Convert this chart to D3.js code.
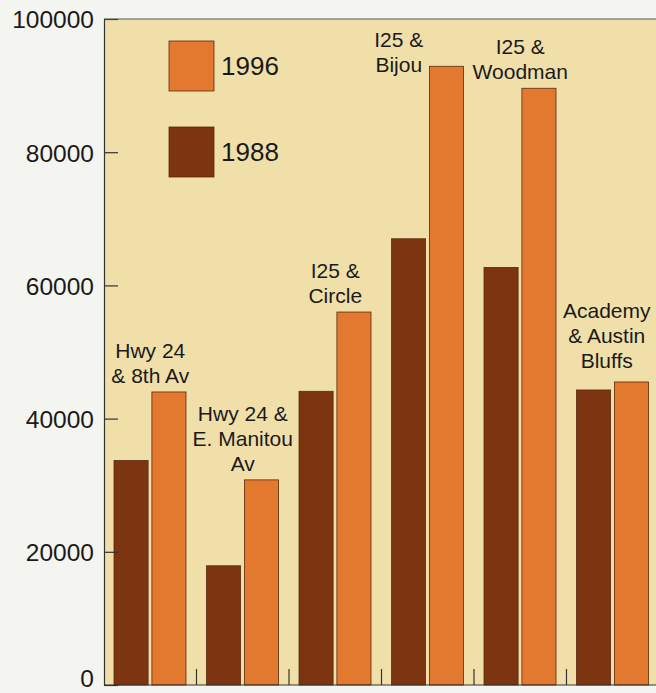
<!DOCTYPE html>
<html>
<head>
<meta charset="utf-8">
<script src="https://cdn.jsdelivr.net/npm/d3@7"></script>
<style>
  html, body { margin: 0; padding: 0; background: #f4f4f1; }
  svg { display: block; }
  text { font-family: "Liberation Sans", Arial, Helvetica, sans-serif; fill: #1a1a1a; }
</style>
</head>
<body>
<div id="chart"></div>
<script>
const categories = ["Hwy 24 & 8th Av", "Hwy 24 & E. Manitou Av", "I25 & Circle", "I25 & Bijou", "I25 & Woodman", "Academy & Austin Bluffs"];
const categoryLines = [["Hwy 24", "& 8th Av"], ["Hwy 24 &", "E. Manitou", "Av"], ["I25 &", "Circle"], ["I25 &", "Bijou"], ["I25 &", "Woodman"], ["Academy", "& Austin", "Bluffs"]];
const series = ["1988", "1996"];
const values1988 = [33700, 17900, 44100, 67000, 62700, 44300];
const values1996 = [44000, 30800, 56000, 92900, 89600, 45500];
const yTicks = [0, 20000, 40000, 60000, 80000, 100000];
const colors = { "1988": "#7d3410", "1996": "#e3782f" };

const W = 656, H = 693;
const mLeft = 104, mRight = 659, mTop = 19, mBottom = 685;

const svg = d3.select("#chart").append("svg").attr("width", W).attr("height", H);

const x0 = d3.scaleBand().domain(categories).range([mLeft, mRight]).padding(0);
const x1 = d3.scaleBand().domain(series).range([10, 82]).paddingInner(0.1).paddingOuter(0);
const y = d3.scaleLinear().domain([0, 100000]).range([mBottom, mTop]);

// plot background
svg.append("rect").attr("x", mLeft).attr("y", mTop).attr("width", W - mLeft).attr("height", mBottom - mTop).attr("fill", "#f1dfa9");

// bars
const data = categories.map((c, i) => ({ c, i, v: { "1988": values1988[i], "1996": values1996[i] } }));
const g = svg.append("g");
data.forEach(d => {
  series.forEach(s => {
    g.append("rect")
      .attr("x", x0(d.c) + x1(s))
      .attr("y", y(d.v[s]))
      .attr("width", x1.bandwidth())
      .attr("height", y(0) - y(d.v[s]))
      .attr("fill", colors[s])
      .attr("stroke", "#5a2a10")
      .attr("stroke-width", 0.8);
  });
});

// y axis
const yAxis = d3.axisLeft(y).tickValues(yTicks).tickFormat(d3.format("d")).tickSizeInner(-14).tickSizeOuter(0).tickPadding(10);
const ya = svg.append("g").attr("transform", `translate(${mLeft},0)`).call(yAxis);
ya.select(".domain").attr("stroke", "#333").attr("stroke-width", 1.2);
ya.selectAll(".tick line").attr("stroke", "#333").attr("stroke-width", 1.2);
ya.selectAll(".tick text").style("font-size", "24.5px").attr("fill", "#1a1a1a")
  .attr("dy", d => d === 0 ? "0.05em" : "0.36em").attr("x", -10);

// top border
svg.append("line").attr("x1", mLeft).attr("x2", W).attr("y1", mTop).attr("y2", mTop).attr("stroke", "#555").attr("stroke-width", 1.2);

// x axis with boundary ticks
const xa = svg.append("g").attr("transform", `translate(0,${mBottom})`);
xa.append("line").attr("x1", mLeft).attr("x2", W).attr("stroke", "#333").attr("stroke-width", 1.2);
categories.slice(1).forEach(c => {
  xa.append("line").attr("x1", x0(c)).attr("x2", x0(c)).attr("y1", 0).attr("y2", -16).attr("stroke", "#333").attr("stroke-width", 1.2);
});

// category labels
const lineH = 25;
const labelOffsets = [0, 0, 0, -29, 0, -6];
data.forEach((d, i) => {
  const lines = categoryLines[i];
  const maxV = Math.max(d.v["1988"], d.v["1996"]);
  let baseY = y(maxV) - 9;
  if (i === 3) baseY = y(maxV) + 6;
  if (i === 5) baseY = y(maxV) - 14;
  const cx = x0(d.c) + x0.bandwidth() / 2 + labelOffsets[i];
  const t = svg.append("text").attr("text-anchor", "middle").style("font-size", "21px");
  lines.forEach((ln, k) => {
    t.append("tspan").attr("x", cx).attr("y", baseY - (lines.length - 1 - k) * lineH).text(ln);
  });
});

// legend
const legendY = [{ s: "1996", y: 41 }, { s: "1988", y: 127 }];
legendY.forEach(l => {
  svg.append("rect").attr("x", 169).attr("y", l.y).attr("width", 45).attr("height", 50)
    .attr("fill", colors[l.s]).attr("stroke", "#5a2a10").attr("stroke-width", 0.8);
  svg.append("text").attr("x", 221).attr("y", l.y + 25).attr("dy", "0.36em").style("font-size", "26px").text(l.s);
});
</script>
</body>
</html>
